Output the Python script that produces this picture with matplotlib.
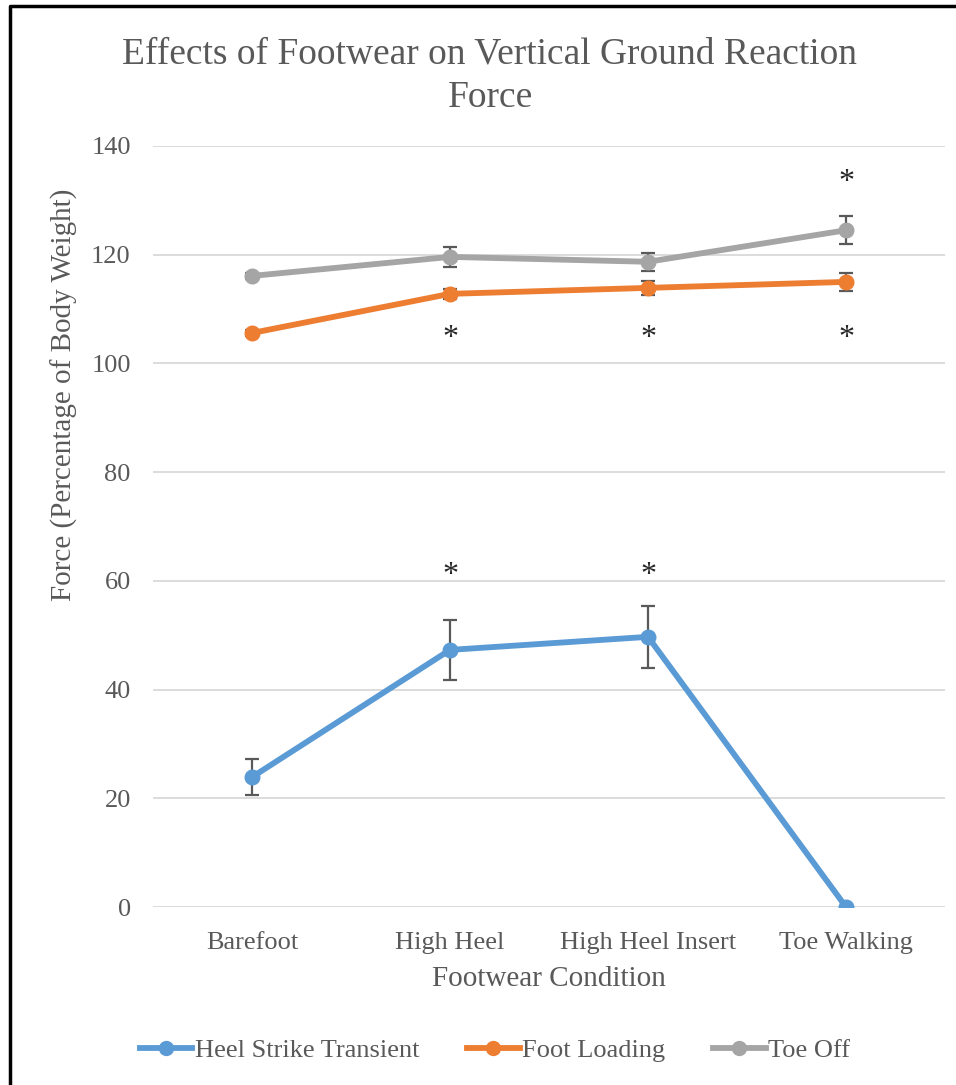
import numpy as np
import matplotlib.pyplot as plt
from matplotlib.lines import Line2D

plt.rcParams['font.family'] = ['Liberation Serif', 'DejaVu Serif']

# Data
conditions = ['Barefoot', 'High Heel', 'High Heel Insert', 'Toe Walking']
heel_strike = [23.9, 47.3, 49.7, 0.0]
heel_strike_err = [3.3, 5.5, 5.7, 0.0]
foot_loading = [105.6, 112.8, 113.9, 115.0]
foot_loading_err = [0.6, 0.9, 1.3, 1.7]
toe_off = [116.1, 119.6, 118.7, 124.5]
toe_off_err = [0.6, 1.8, 1.7, 2.6]

# significance markers: (category index, height)
star_idx = [1, 2, 1, 2, 3, 3]
star_y = [61.0, 61.0, 104.6, 104.6, 104.6, 133.2]

text_col = '#595959'
colors = ['#5B9BD5', '#ED7D31', '#A5A5A5']
names = ['Heel Strike Transient', 'Foot Loading', 'Toe Off']

fig = plt.figure(figsize=(9.56, 10.85), dpi=100)
ax = fig.add_axes([153 / 956, 1 - 907 / 1085, 792 / 956, 761 / 1085])

x = np.arange(len(conditions))
series = [(heel_strike, heel_strike_err), (foot_loading, foot_loading_err), (toe_off, toe_off_err)]
for (vals, errs), c, n in zip(series, colors, names):
    ax.errorbar(x, vals, yerr=errs, color=c, lw=4.2, marker='o', ms=10.5,
                ecolor=text_col, elinewidth=1.6, capsize=5, capthick=1.6,
                label=n, zorder=3)

for i, yv in zip(star_idx, star_y):
    ax.text(i, yv, '*', ha='center', va='center', fontsize=23, color='#262626')

ax.set_xlim(-0.5, len(conditions) - 0.5)
ax.set_ylim(0, 140)
ax.set_yticks(np.arange(0, 141, 20))
ax.set_xticks(x)
ax.set_xticklabels(conditions)
ax.yaxis.grid(True, color='#D9D9D9', lw=1.3)
ax.set_axisbelow(True)
for s in ax.spines.values():
    s.set_visible(False)
ax.tick_params(length=0, labelsize=19, colors=text_col)
ax.tick_params(axis='x', pad=18)
ax.tick_params(axis='y', pad=16)

ax.set_xlabel('Footwear Condition', fontsize=21, color=text_col, labelpad=9)
ax.set_ylabel('Force (Percentage of Body Weight)', fontsize=21, color=text_col)
ax.yaxis.set_label_coords(-0.095, 0.673)

fig.text(490 / 956, 1 - 76 / 1085, 'Effects of Footwear on Vertical Ground Reaction\nForce',
         ha='center', va='center', fontsize=27, color=text_col, linespacing=1.36)

handles = [Line2D([], [], color=c, lw=4.2, marker='o', ms=10) for c in colors]
fig.legend(handles, names, loc='center', bbox_to_anchor=(495 / 956, 1 - 1050 / 1085),
           ncol=3, frameon=False, fontsize=19, labelcolor=text_col,
           handlelength=2.0, handletextpad=0.1, columnspacing=1.8)

# partial frame as in the source image
fig.add_artist(Line2D([10 / 956, 10 / 956, 1], [0, 1 - 6 / 1085, 1 - 6 / 1085],
                      color='black', lw=2.5, transform=fig.transFigure))

plt.savefig('out.png', dpi=100)
